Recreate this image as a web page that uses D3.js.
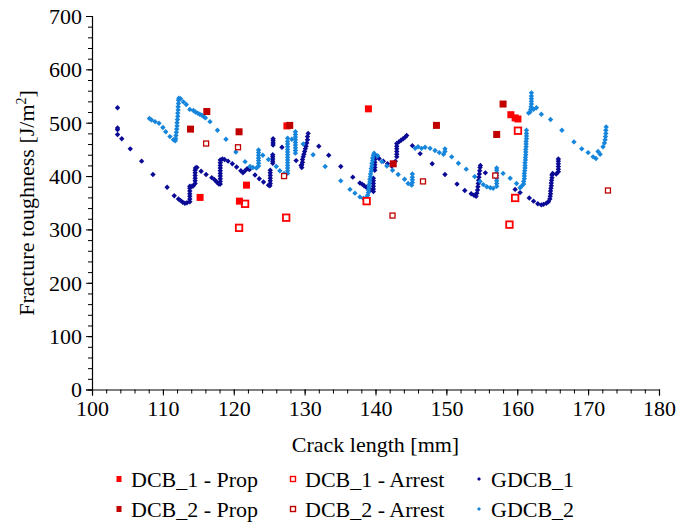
<!DOCTYPE html>
<html><head><meta charset="utf-8">
<style>
html,body{margin:0;padding:0;background:#fff;}
svg text{font-family:"Liberation Serif",serif;}
</style>
<script src="https://cdn.jsdelivr.net/npm/d3@7"></script>
</head><body>
<svg id="c" width="694" height="522" font-family="Liberation Serif, serif"></svg>
<script>
// ---- data (crack length mm, fracture toughness J/m2) ----
const xTicks = [100,110,120,130,140,150,160,170,180];
const yTicks = [0,100,200,300,400,500,600,700];

const dcb1Prop = [[115.25,360],[120.8,353],[121.8,383],[127.5,494],[139.0,526],[159.1,515],[159.7,509],[160.1,507]];
const dcb2Prop = [[113.9,488],[116.2,521],[120.75,483],[127.9,495],[142.5,423],[148.6,495],[158.0,535],[157.1,478]];
const dcb1Arrest = [[120.75,303],[121.6,348],[127.4,322],[138.75,353],[158.9,309],[159.7,359],[160.1,485]];
const dcb2Arrest = [[116.1,461],[120.6,454],[127.1,400],[142.4,326],[146.7,390],[156.9,401],[172.8,373]];

const gdcb1 = [
[103.6,528],[103.6,490],[103.6,487],[103.6,478],[104.2,470],[105.4,451],[107.0,428],[108.6,403],[110.6,379],[111.6,363],[112.2,357],[112.5,354],[112.8,351],[113.1,349],[113.4,350],
[113.8,352],[113.8,357],[113.8,362],[113.8,367],[113.8,372],[113.8,377],[113.8,381],[114.1,381],[114.3,382],
[114.55,386],[114.55,391],[114.55,396],[114.55,401],[114.55,406],[114.55,411],[114.6,415],[114.8,416],
[115.4,409],[116.1,403],[116.9,397],[117.3,393],[117.6,389],[117.9,385],
[118.1,385],[118.1,390],[118.1,395],[118.1,400],[118.1,405],[118.1,410],[118.1,415],[118.1,420],[118.1,425],[118.1,430],
[118.4,432],[118.7,431],[119.2,428],[119.8,423],[120.4,417],[121.0,410],[121.3,406],[121.6,410],[121.9,414],[122.2,412],
[123.0,402],[123.6,395],[124.2,389],[124.9,383],[125.1,382],
[125.15,386],[125.15,391],[125.15,396],[125.15,401],[125.15,406],[125.15,411],
[125.5,424],[125.5,428],[125.5,432],[125.5,436],[125.5,440],
[125.55,458],[125.55,462],[125.55,466],[125.55,470],
[126.8,454],[128.8,429],
[129.5,420],[129.6,416],[129.6,421],[129.7,426],[129.7,431],[129.8,436],[129.9,441],[130.0,446],[130.1,451],[130.2,456],[130.3,462],[130.4,468],[130.4,474],[130.5,480],
[132.0,456],[133.4,439],[135.1,418],[136.8,398],
[137.8,387],[138.1,385],[138.4,382],[138.7,379],[139.0,377],[139.3,375],
[139.7,371],[139.7,376],[139.7,381],[139.7,386],[139.7,391],[139.7,396],
[139.9,411],[139.9,416],[139.9,421],[139.9,426],[139.9,431],[139.9,436],[139.9,440],
[140.5,433],[141.1,428],[141.7,423],[142.3,419],[142.8,428],
[143.0,436],[143.0,441],[143.0,446],[143.0,451],[143.0,456],[143.0,461],[143.3,464],[143.6,467],[143.9,470],[144.2,473],[144.4,476],
[145.2,457],[146.3,442],[148.0,423],[149.8,403],[151.5,385],[152.6,373],[153.5,367],[153.9,364],
[154.2,362],[154.3,368],[154.4,374],[154.45,380],[154.5,386],[154.55,392],[154.6,398],[154.65,404],[154.7,410],[154.75,416],[154.8,420],
[155.5,406],[159.7,375],[160.4,369],[161.7,359],[162.3,353],[162.9,348],[163.4,346],[163.7,347],
[164.1,349],[164.4,352],[164.6,357],[164.65,362],[164.7,367],[164.7,372],[164.75,377],[164.8,382],[164.8,387],[164.85,392],[164.9,397],[164.9,402],[165.0,405],
[165.5,404],[165.8,408],[165.8,413],[165.8,418],[165.8,423],[165.8,428],[165.8,432]
];

const gdcb2 = [
[108.1,508],[108.4,505],[108.9,502],[109.45,499],[110.0,491],[110.4,483],[111.0,474],[111.5,468],[111.75,466],
[111.8,470],[111.85,476],[111.9,482],[111.95,488],[112.0,494],[112.0,500],[112.05,506],[112.1,512],[112.1,518],[112.15,524],[112.15,530],[112.2,536],[112.2,542],[112.25,546],
[112.5,545],[112.9,539],[113.3,534],[113.8,525],[114.3,523],[114.6,520],[114.9,518],[115.2,516],[115.5,514],[115.8,511],[116.0,509],[116.65,502],[117.7,486],[118.9,469],[120.3,445],[121.6,427],[122.3,418],[122.7,416],[123.2,415],
[123.5,419],[123.5,424],[123.5,429],[123.5,434],[123.5,439],[123.5,444],[123.5,449],
[124.1,439],[124.9,431],[126.0,418],[126.5,410],[127.1,405],
[127.6,405],[127.6,410],[127.6,415],[127.6,420],[127.6,425],[127.6,430],[127.6,435],[127.6,440],[127.6,445],[127.6,450],[127.6,455],[127.6,460],[127.6,465],[127.6,471],
[128.2,469],
[128.7,443],[128.7,448],[128.7,453],[128.7,458],[128.7,463],[128.7,468],[128.7,473],[128.7,478],[128.7,483],
[129.8,460],[131.2,440],[132.9,418],[135.1,391],[136.4,375],[137.1,368],[137.8,361],[138.3,358],[138.7,360],
[138.9,364],[139.0,369],[139.0,374],[139.1,379],[139.1,384],[139.2,389],[139.2,394],[139.3,399],[139.3,404],[139.4,409],[139.4,414],[139.5,419],[139.5,424],[139.6,429],[139.6,434],[139.7,439],[139.8,443],
[140.3,438],[140.9,427],[141.6,419],[142.4,411],[143.2,403],[144.1,394],[144.6,386],[145.1,383],
[145.2,388],[145.2,393],[145.2,398],[145.2,404],
[145.6,452],[146.0,455],[146.5,452],[147.0,454],[147.7,452],[148.4,448],[149.0,444],[149.6,441],[149.8,446],[149.8,451],
[150.75,436],[151.7,424],[152.8,413],[154.0,399],[154.75,390],[155.2,384],[155.7,380],[156.2,378],[156.6,377],
[157.1,381],[157.1,386],[157.1,391],[157.1,396],[157.1,401],[157.1,406],[157.1,411],[157.1,415],
[158.0,405],[159.0,396],[159.9,386],[160.4,378],[160.6,381],
[160.9,385],[160.9,390],[161.0,395],[161.0,400],[161.0,405],[161.05,410],[161.1,415],[161.1,420],[161.1,425],[161.15,430],[161.15,435],[161.2,440],[161.2,445],[161.2,450],[161.25,455],[161.25,460],[161.25,465],[161.3,470],[161.3,475],[161.3,480],[161.3,486],
[161.6,518],[161.8,520],[161.9,525],[161.95,530],[162.0,535],[162.0,540],[162.0,545],[162.0,550],[162.0,556],
[162.3,525],[162.7,528],[163.4,516],[164.7,506],[166.3,486],[168.0,464],[169.1,451],[170.0,444],[170.7,436],[171.1,433],
[171.4,446],[171.7,441],[172.1,455],[172.3,462],[172.4,468],[172.45,474],[172.5,480],[172.5,486],[172.55,492]
];

const legendLabels = ["DCB_1 - Prop","DCB_2 - Prop","DCB_1 - Arrest","DCB_2 - Arrest","GDCB_1","GDCB_2"];

// ---- drawing ----
const FONT = "Liberation Serif";
const C_RED = "#ff0000", C_DRED = "#c00000", C_NAVY = "#0a0a96", C_BLUE = "#1686dc";
const svg = d3.select("#c");
const x = d3.scaleLinear().domain([100,180]).range([92,659]);
const y = d3.scaleLinear().domain([0,700]).range([389.5,16]);

// texts first
const textLayer = svg.append("g");
const titleX = textLayer.append("text").attr("x",(x(100)+x(180))/2).attr("y",452).attr("text-anchor","middle")
  .style("font-family",FONT).style("font-size","22px").text("Crack length [mm]");
const yt = textLayer.append("text").attr("transform","translate(34,203) rotate(-90)").attr("text-anchor","middle")
  .style("font-family",FONT).style("font-size","22px");
yt.append("tspan").text("Fracture toughness [J/m");
yt.append("tspan").attr("dy",-8).style("font-size","14px").text("2");
yt.append("tspan").attr("dy",8).text("]");

// minor ticks
svg.append("g").attr("transform","translate(0,"+y(0)+")")
  .call(d3.axisBottom(x).tickValues(d3.range(100,181,2)).tickSize(4).tickFormat(""))
  .call(g => g.select(".domain").remove());
svg.append("g").attr("transform","translate("+x(100)+",0)")
  .call(d3.axisLeft(y).tickValues(d3.range(0,701,20)).tickSize(4).tickFormat(""))
  .call(g => g.select(".domain").remove());

// major axes
const gx = svg.append("g").attr("transform","translate(0,"+y(0)+")")
  .call(d3.axisBottom(x).tickValues(xTicks).tickSize(6).tickFormat(d3.format("d")));
gx.attr("font-family", FONT);
gx.selectAll("text").style("font-family",FONT).style("font-size","22px").attr("fill","#000").attr("dy","0.71em").attr("y",11);
const gy = svg.append("g").attr("transform","translate("+x(100)+",0)")
  .call(d3.axisLeft(y).tickValues(yTicks).tickSize(6).tickFormat(d3.format("d")));
gy.attr("font-family", FONT);
gy.selectAll("text").style("font-family",FONT).style("font-size","22px").attr("fill","#000").attr("x",-10).attr("dy","0.34em");
svg.selectAll(".domain").attr("stroke","#000").attr("stroke-width",1.2);
svg.selectAll(".tick line").attr("stroke","#000");

// legend
const lg = svg.append("g");
const legendItems = [
  {t:legendLabels[0], mx:119, row:0, kind:"fill", c:C_RED},
  {t:legendLabels[1], mx:119, row:1, kind:"fill", c:C_DRED},
  {t:legendLabels[2], mx:293, row:0, kind:"open", c:C_RED},
  {t:legendLabels[3], mx:293, row:1, kind:"open", c:C_DRED},
  {t:legendLabels[4], mx:479, row:0, kind:"dia", c:C_NAVY},
  {t:legendLabels[5], mx:479, row:1, kind:"dia", c:C_BLUE}
];
const rowY = [479, 509];
const diamond = (s) => `M0,${-s}L${s},0L0,${s}L${-s},0Z`;
legendItems.forEach(it => {
  const cy = rowY[it.row];
  lg.append("text").attr("x", it.mx+12).attr("y", cy+8)
    .style("font-family",FONT).style("font-size","22px").attr("fill","#000").text(it.t);
  if (it.kind === "fill") {
    lg.append("rect").attr("x", it.mx-2.5).attr("y", cy-3).attr("width",5).attr("height",6).attr("fill", it.c);
  } else if (it.kind === "open") {
    lg.append("rect").attr("x", it.mx-2.5).attr("y", cy-2.5).attr("width",5).attr("height",5)
      .attr("fill","#fff").attr("stroke", it.c).attr("stroke-width",1.4);
  } else {
    lg.append("path").attr("d", diamond(2)).attr("fill", it.c).attr("transform",`translate(${it.mx},${cy})`);
  }
});

// markers
function drawDiamonds(data, color){
  svg.append("g").selectAll("path").data(data).join("path")
    .attr("d", diamond(2.7)).attr("fill", color)
    .attr("transform", d => `translate(${x(d[0])},${y(d[1])})`);
}
function drawSquares(data, color, filled, s, sw){
  svg.append("g").selectAll("rect").data(data).join("rect")
    .attr("x", d => x(d[0]) - s/2).attr("y", d => y(d[1]) - s/2)
    .attr("width", s).attr("height", s)
    .attr("fill", filled ? color : "#fff")
    .attr("stroke", filled ? "none" : color).attr("stroke-width", sw);
}
drawDiamonds(gdcb1, C_NAVY);
drawDiamonds(gdcb2, C_BLUE);
drawSquares(dcb1Arrest, C_RED, false, 6.5, 1.8);
drawSquares(dcb2Arrest, C_DRED, false, 5, 1.3);
drawSquares(dcb1Prop, C_RED, true, 7);
drawSquares(dcb2Prop, C_DRED, true, 7);
</script>
</body></html>
